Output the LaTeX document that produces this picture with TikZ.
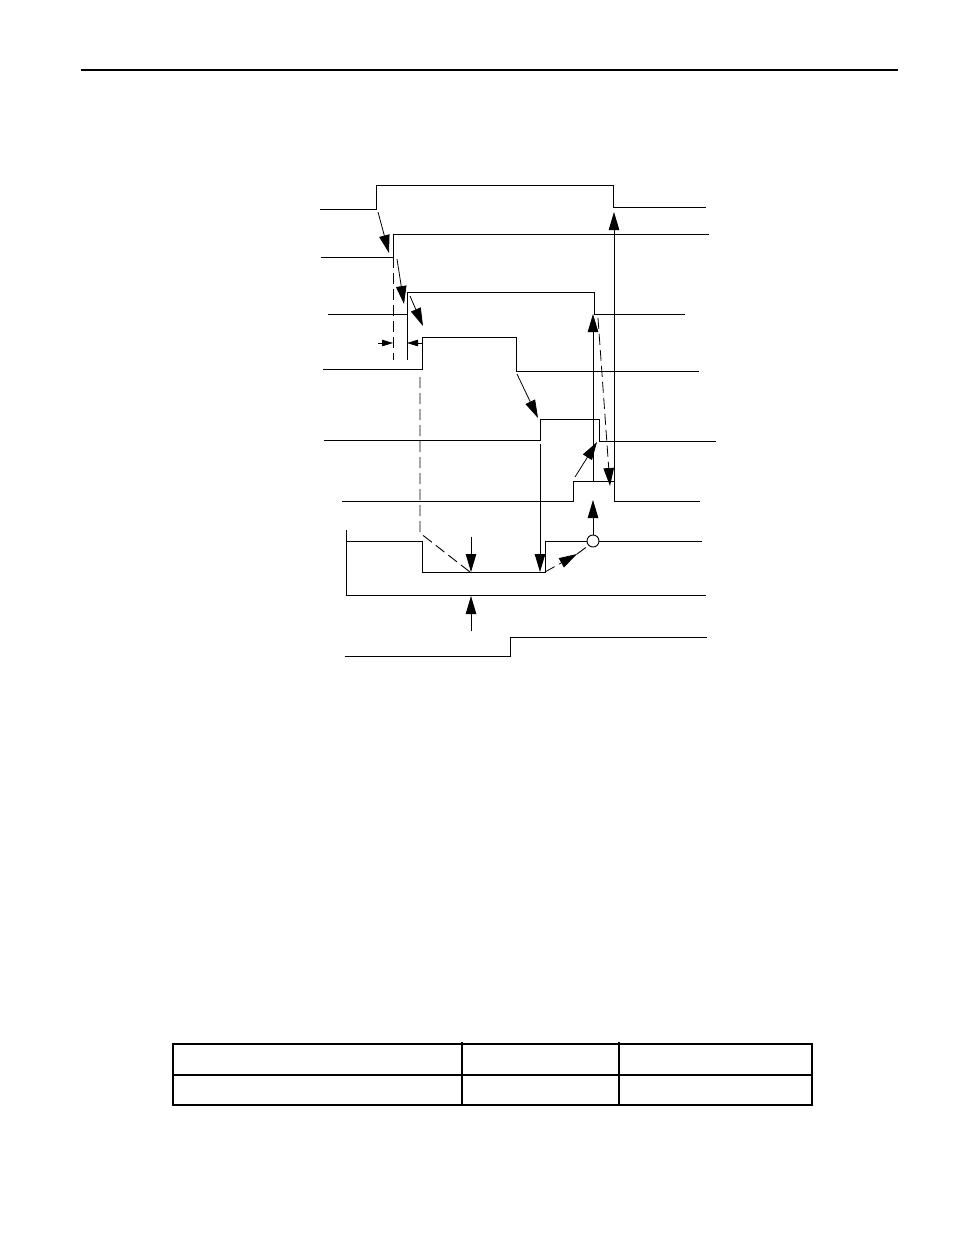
\documentclass[tikz,border=0pt]{standalone}
\usetikzlibrary{arrows.meta}

\tikzset{
  sig/.style={line width=0.9pt},
  bigarrow/.style={line width=0.8pt,-{Triangle[length=18pt,width=10.5pt]}},
  smallarrow/.style={line width=0.8pt,-{Triangle[length=11pt,width=6.5pt]}},
  guide/.style={line width=0.9pt,dash pattern=on 11pt off 5pt},
}

\begin{document}
\begin{tikzpicture}[x=1pt,y=-1pt]
\useasboundingbox (0,0) rectangle (954,1235);
% header rule
\draw[line width=2.5pt] (81,70) -- (898,70);

% waveforms
\draw[sig] (320,209) -- (376,209) -- (376,185) -- (613,185) -- (613,207) -- (706,207);
\draw[sig] (321,257) -- (393,257) -- (393,234) -- (709,234);
\draw[sig] (328,314) -- (407,314) -- (407,292) -- (594,292) -- (594,314) -- (685,314);
\draw[sig] (323,369) -- (422,369) -- (422,337) -- (516,337) -- (516,371) -- (699,371);
\draw[sig] (324,440) -- (540,440) -- (540,419) -- (599,419) -- (599,441) -- (716,441);
\draw[sig] (342,501) -- (573,501) -- (573,481) -- (614,481) -- (614,501) -- (700,501);
\draw[sig] (346,530) -- (346,595) -- (706,595);
\node[circle,draw,line width=0.9pt,minimum size=12pt,inner sep=0pt] (ring) at (593,541) {};
\draw[sig] (346,541) -- (422,541) -- (422,572) -- (545,572) -- (545,541) -- (ring.west);
\draw[sig] (ring.east) -- (702,541);
\draw[sig] (345,656) -- (510,656) -- (510,637) -- (707,637);

% edge offsets
\draw[guide] (393,257) -- (393,360);
\draw[sig] (407,314) -- (407,360);
\draw[smallarrow] (378,343) -- (393,343);
\draw[smallarrow] (422,343) -- (407,343);

% causal arrows
\draw[bigarrow] (378,212) -- (389,253);
\draw[bigarrow] (397,259) -- (404,304);
\draw[bigarrow] (410,296) -- (423,326);
\draw[guide] (420,377) -- (420,533) -- (470,572);
\draw[bigarrow] (471,537) -- (471,572);
\draw[bigarrow] (471,631) -- (471,596);
\draw[bigarrow] (517,374) -- (538,418);
\draw[bigarrow] (540,444) -- (540,572);
\draw[guide,bigarrow] (545,572) -- (577,554);
\draw[guide] (577,554) -- (ring.south west);
\draw[bigarrow] (ring.north) -- (593,500);
\draw[bigarrow] (575,477) -- (597,442);
\draw[bigarrow] (593,481) -- (593,314);
\draw[bigarrow] (614,481) -- (614,212);
\draw[guide,bigarrow] (598,318) -- (610,486);

% table
\draw[line width=1.2pt] (173,1044) rectangle (812,1105);
\draw[line width=1.2pt] (173,1075) -- (812,1075);
\foreach \x in {462,619}
  \draw[line width=1.2pt] (\x,1042) -- (\x,1105);
\end{tikzpicture}
\end{document}
